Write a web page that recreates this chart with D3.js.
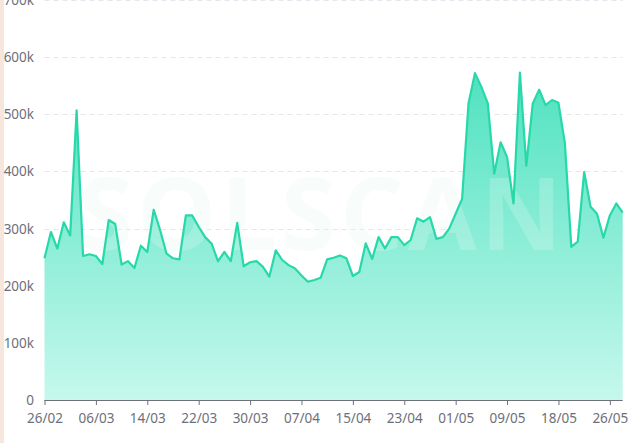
<!DOCTYPE html>
<html>
<head>
<meta charset="utf-8">
<script src="https://cdn.jsdelivr.net/npm/d3@7"></script>
<style>
  html, body { margin: 0; padding: 0; background: #ffffff; }
  svg { display: block; }
</style>
</head>
<body>
<svg id="chart" width="640" height="443"></svg>
<script>
const categories = [
  "26/02","27/02","28/02","01/03","02/03","03/03","04/03","05/03","06/03","07/03",
  "08/03","09/03","10/03","11/03","12/03","13/03","14/03","15/03","16/03","17/03",
  "18/03","19/03","20/03","21/03","22/03","23/03","24/03","25/03","26/03","27/03",
  "28/03","29/03","30/03","31/03","01/04","02/04","03/04","04/04","05/04","06/04",
  "07/04","08/04","09/04","10/04","11/04","12/04","13/04","14/04","15/04","16/04",
  "17/04","18/04","19/04","20/04","21/04","22/04","23/04","24/04","25/04","26/04",
  "27/04","28/04","29/04","30/04","01/05","02/05","03/05","04/05","05/05","06/05",
  "07/05","08/05","09/05","10/05","11/05","12/05","14/05","15/05","16/05","17/05",
  "18/05","19/05","20/05","21/05","22/05","23/05","24/05","25/05","26/05","27/05",
  "28/05"
];
const values = [
  248000,294000,265000,311000,288000,507000,252000,255000,252000,238000,
  315000,308000,237000,243000,231000,270000,259000,333000,297000,256000,
  248000,246000,323000,323000,303000,285000,274000,243000,259000,243000,
  310000,234000,241000,243000,233000,216000,262000,245000,236000,230000,
  218000,207000,210000,214000,246000,249000,253000,248000,217000,224000,
  274000,247000,285000,265000,285000,285000,271000,280000,318000,312000,
  320000,282000,285000,300000,326000,352000,519000,572000,548000,519000,
  396000,451000,425000,344000,573000,410000,519000,543000,516000,525000,
  520000,449000,268000,277000,399000,338000,326000,284000,323000,344000,
  328000
];
const xTickLabels = ["26/02","06/03","14/03","22/03","30/03","07/04","15/04","23/04","01/05","09/05","18/05","26/05"];
const yTicks = [0,100000,200000,300000,400000,500000,600000,700000];
const yTickLabels = ["0","100k","200k","300k","400k","500k","600k","700k"];

const svg = d3.select("#chart");
const font = "'Noto Sans', 'Open Sans', sans-serif";

// left beige strip
svg.append("rect").attr("x",0).attr("y",0).attr("width",4).attr("height",443).attr("fill","#f6e6dc");

const x = d3.scalePoint().domain(categories).range([44.5, 622.7]);
const y = d3.scaleLinear().domain([0, 700000]).range([400, 0]);

// grid
svg.append("g").selectAll("line").data(yTicks.filter(d => d > 0)).join("line")
  .attr("x1", 44.5).attr("x2", 622.7)
  .attr("y1", d => Math.round(y(d)) + 0.5).attr("y2", d => Math.round(y(d)) + 0.5)
  .attr("stroke", "#e3e6ec").attr("stroke-width", 1).attr("stroke-dasharray", "5,4");

// y labels
svg.append("g").selectAll("text").data(yTicks).join("text")
  .attr("x", 34).attr("y", d => y(d))
  .attr("text-anchor", "end").attr("dominant-baseline", "central")
  .attr("font-family", font).attr("font-size", 13.5).attr("fill", "#6e7079")
  .text((d, i) => yTickLabels[i]);

// gradient
const defs = svg.append("defs");
const grad = defs.append("linearGradient").attr("id", "areaGrad")
  .attr("gradientUnits", "userSpaceOnUse")
  .attr("x1", 0).attr("x2", 0).attr("y1", y(d3.max(values))).attr("y2", y(0));
grad.append("stop").attr("offset", "0%").attr("stop-color", "#4fe2c0");
grad.append("stop").attr("offset", "100%").attr("stop-color", "#c6f8ed");

const pts = categories.map((c, i) => [x(c), y(values[i])]);

svg.append("path")
  .attr("d", d3.area().x(d => d[0]).y0(y(0)).y1(d => d[1])(pts))
  .attr("fill", "url(#areaGrad)");

// watermark
svg.append("text")
  .attr("x", 322).attr("y", 250).attr("text-anchor", "middle")
  .attr("font-family", "'Open Sans', sans-serif").attr("font-weight", 700)
  .attr("font-size", 100).attr("letter-spacing", 4)
  .attr("fill", "#e4faf4").attr("opacity", 0.25)
  .text("SOLSCAN");

svg.append("path")
  .attr("d", d3.line().x(d => d[0]).y(d => d[1])(pts))
  .attr("fill", "none").attr("stroke", "#27d8a8").attr("stroke-width", 2.2)
  .attr("stroke-linejoin", "round");

// x axis
const xAxis = d3.axisBottom(x)
  .tickValues(xTickLabels)
  .tickSize(5).tickSizeOuter(0).tickPadding(5);
const gx = svg.append("g").attr("transform", "translate(0,400)").call(xAxis);
gx.select(".domain").attr("stroke", "#6e7079").attr("d", "M44.5,0.5H622.7");
gx.selectAll(".tick line").attr("stroke", "#6e7079");
gx.selectAll(".tick text").attr("font-family", font).attr("font-size", 13.5).attr("fill", "#6e7079")
  .attr("dy", "0.95em");
</script>
</body>
</html>
